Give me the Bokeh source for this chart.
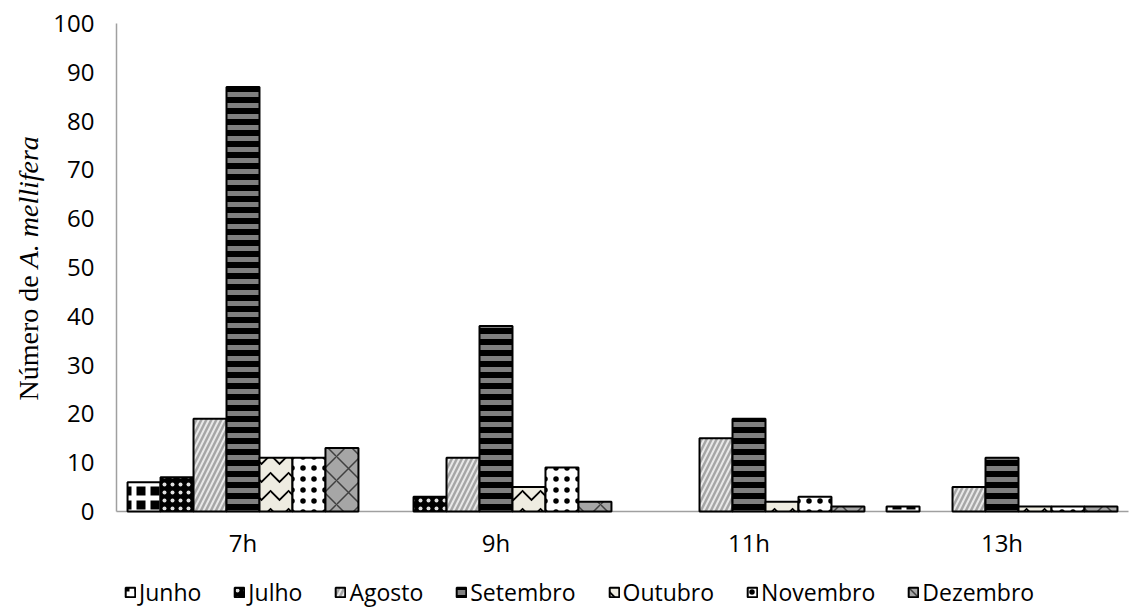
import math
from bokeh.plotting import figure
from bokeh.models import Range1d, Legend, LegendItem, ColumnDataSource
from bokeh.core.properties import value
from bokeh.embed import file_html
from bokeh.resources import INLINE

hours = ["7h", "9h", "11h", "13h"]
months = ["Junho", "Julho", "Agosto", "Setembro", "Outubro", "Novembro", "Dezembro"]
junho = [6, 0, 0, 1]
julho = [7, 3, 0, 0]
agosto = [19, 11, 15, 5]
setembro = [87, 38, 19, 11]
outubro = [11, 5, 2, 1]
novembro = [11, 9, 3, 1]
dezembro = [13, 2, 1, 1]
y_ticks = list(range(0, 101, 10))
title_parts = ["Número de", "A. mellifera"]

series = dict(zip(months, [junho, julho, agosto, setembro, outubro, novembro, dezembro]))

styles = {
    "Junho": dict(fill_color="black", hatch_pattern="+", hatch_color="white", hatch_scale=14, hatch_weight=5),
    "Julho": dict(fill_color="black", hatch_pattern=".", hatch_color="#e0e0e0", hatch_scale=8, hatch_weight=2.5),
    "Agosto": dict(fill_color="#a6a6a6", hatch_pattern="/", hatch_color="#e8e8e8", hatch_scale=10, hatch_weight=2),
    "Setembro": dict(fill_color="black", hatch_pattern="-", hatch_color="#808080", hatch_scale=11, hatch_weight=5),
    "Outubro": dict(fill_color="#eeece1", hatch_pattern="v", hatch_color="black", hatch_scale=18, hatch_weight=1.8),
    "Novembro": dict(fill_color="white", hatch_pattern=".", hatch_color="black", hatch_scale=11, hatch_weight=0.8),
    "Dezembro": dict(fill_color="#a6a6a6", hatch_pattern="x", hatch_color="#404040", hatch_scale=24, hatch_weight=1.5),
}

FONT = "Open Sans"
W, H = 1130, 608
# layout of the plotting area inside the canvas (pixels)
AX_LEFT, AX_TOP, AX_BOTTOM = 116, 23, 511
CAT_PX = 253.0
PX_PER_UNIT = (AX_BOTTOM - AX_TOP) / 100.0
first_center = AX_LEFT + CAT_PX / 2

ymin = y_ticks[0] - (H - AX_BOTTOM) / PX_PER_UNIT
ymax = y_ticks[-1] + AX_TOP / PX_PER_UNIT
xmin = -first_center / CAT_PX
xmax = (W - first_center) / CAT_PX

p = figure(width=W, height=H, x_range=Range1d(xmin, xmax), y_range=Range1d(ymin, ymax),
           output_backend="svg", toolbar_location=None,
           x_axis_location=None, y_axis_location=None,
           min_border_left=0, min_border_right=0, min_border_top=0, min_border_bottom=0)
p.outline_line_color = None
p.grid.visible = False
p.background_fill_color = "white"
p.border_fill_color = "white"

xi = list(range(len(hours)))
x_lo, x_hi = xi[0] - 0.5, xi[-1] + 0.5

# axis lines
p.segment(x0=[x_lo, x_lo], y0=[y_ticks[0], y_ticks[0]], x1=[x_lo, x_hi], y1=[y_ticks[-1], y_ticks[0]],
          line_color="#a0a0a0", line_width=1.5)

# bars
w = 1.0 / 7.67
items = []
for i, m in enumerate(months):
    vals = series[m]
    xs = [k + (i - 3) * w for k, v in zip(xi, vals) if v > 0]
    ys = [v for v in vals if v > 0]
    src = ColumnDataSource(dict(x=xs, top=ys))
    r = p.vbar(x="x", top="top", width=w, bottom=0, source=src,
               line_color="black", line_width=2, **styles[m])
    items.append(LegendItem(label=m, renderers=[r]))

# y tick labels
p.text(x=[x_lo] * len(y_ticks), y=y_ticks, text=[str(t) for t in y_ticks],
       x_offset=-22, text_align="right", text_baseline="middle",
       text_font=value(FONT), text_font_size=value("24px"), text_color="black")
# x tick labels
p.text(x=xi, y=[y_ticks[0]] * len(xi), text=hours,
       y_offset=31, text_align="center", text_baseline="middle",
       text_font=value(FONT), text_font_size=value("24px"), text_color="black")

# y-axis title (normal + italic parts)
fs = 28
p.text(x=[x_lo], y=[y_ticks[0]], text=[title_parts[0]], angle=math.pi / 2,
       x_offset=28 - AX_LEFT, y_offset=-111,
       text_align="left", text_baseline="alphabetic",
       text_font=value("Liberation Serif"), text_font_size=value(f"{fs}px"), text_color="black")
p.text(x=[x_lo], y=[y_ticks[0]], text=[title_parts[1]], angle=math.pi / 2,
       x_offset=28 - AX_LEFT, y_offset=-111 - 4.72 * fs,
       text_align="left", text_baseline="alphabetic", text_font_style="italic",
       text_font=value("Liberation Serif"), text_font_size=value(f"{fs}px"), text_color="black")

legend = Legend(items=items, location=(124, 0), orientation="horizontal",
                label_text_font=FONT, label_text_font_size="23px", label_text_color="black",
                glyph_width=12, glyph_height=12, label_standoff=3, spacing=32,
                padding=0, margin=0, border_line_color=None, background_fill_alpha=0)
p.add_layout(legend, "center")

open("out.html", "w").write(file_html(p, INLINE))
